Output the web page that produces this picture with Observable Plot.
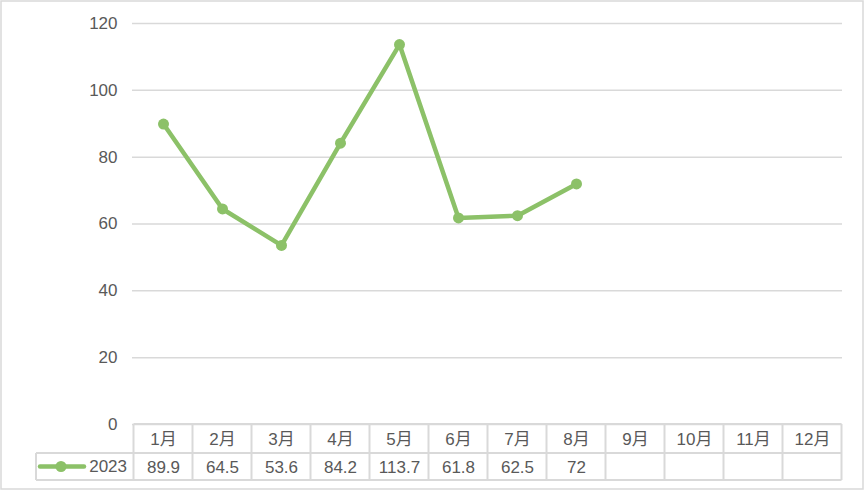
<!DOCTYPE html>
<html>
<head>
<meta charset="utf-8">
<script src="https://cdn.jsdelivr.net/npm/d3@7"></script>
<script src="https://cdn.jsdelivr.net/npm/@observablehq/plot@0.6"></script>
<style>
  body { margin: 0; background: #fff; }
  svg { display: block; }
</style>
</head>
<body>
<div id="chart"></div>
<script>
const months = ["1月","2月","3月","4月","5月","6月","7月","8月","9月","10月","11月","12月"];
const values = [89.9, 64.5, 53.6, 84.2, 113.7, 61.8, 62.5, 72, null, null, null, null];
const seriesName = "2023";
const yTicks = [0, 20, 40, 60, 80, 100, 120];

(function () {
const data = months.map((m, i) => ({month: m, value: values[i]}));
const present = data.filter(d => d.value != null);

const green = "#8cc168";
const gray = "#595959";
const lineGray = "#d9d9d9";
const font = "'Liberation Sans', 'Noto Sans CJK SC', sans-serif";

const plot = Plot.plot({
  width: 867,
  height: 492,
  marginLeft: 132,
  marginRight: 25,
  marginTop: 23,
  marginBottom: 68,
  style: {fontSize: "17px", fontFamily: font, color: gray, background: "#fff", overflow: "visible"},
  x: {type: "point", domain: months, padding: 0.5, axis: null},
  y: {domain: [0, 120], ticks: yTicks, tickSize: 0, tickPadding: 15, label: null, tickFormat: d => d},
  marks: [
    Plot.ruleY(yTicks, {stroke: lineGray, strokeWidth: 1.5}),
    Plot.line(present, {x: "month", y: "value", stroke: green, strokeWidth: 4.5, strokeLinejoin: "round", strokeLinecap: "round"}),
    Plot.dot(present, {x: "month", y: "value", r: 5.5, fill: green, stroke: "none"}),
    Plot.text(months, {x: d => d, frameAnchor: "bottom", dy: 15, lineAnchor: "middle", fill: gray, fontSize: 17}),
    Plot.text(data, {x: "month", text: d => d.value == null ? "" : String(d.value), frameAnchor: "bottom", dy: 43.5, lineAnchor: "middle", fill: gray, fontSize: 17})
  ]
});

document.getElementById("chart").appendChild(plot);

// Data table grid and legend key, positioned through Plot's scales
const svg = d3.select(plot);
const sx = plot.scale("x");
const sy = plot.scale("y");
const step = sx.apply(months[1]) - sx.apply(months[0]);
const x0 = sx.apply(months[0]) - step / 2;
const x1 = sx.apply(months[months.length - 1]) + step / 2;
const yTop = sy.apply(0);
const yMid = yTop + 29;
const yBot = yTop + 56;
const legendLeft = 36;

const g = svg.append("g").attr("stroke", lineGray).attr("stroke-width", 2).attr("fill", "none");
g.append("line").attr("x1", x0).attr("x2", x1).attr("y1", yTop).attr("y2", yTop);
g.append("line").attr("x1", legendLeft).attr("x2", x1).attr("y1", yMid).attr("y2", yMid);
g.append("line").attr("x1", legendLeft).attr("x2", x1).attr("y1", yBot).attr("y2", yBot);
g.append("line").attr("x1", legendLeft).attr("x2", legendLeft).attr("y1", yMid).attr("y2", yBot);
for (let i = 0; i <= months.length; i++) {
  const x = x0 + i * step;
  g.append("line").attr("x1", x).attr("x2", x).attr("y1", yTop).attr("y2", yBot);
}

const ly = (yMid + yBot) / 2;
svg.append("line").attr("x1", 40).attr("x2", 84).attr("y1", ly).attr("y2", ly)
  .attr("stroke", green).attr("stroke-width", 4.5).attr("stroke-linecap", "round");
svg.append("circle").attr("cx", 61).attr("cy", ly).attr("r", 5.5).attr("fill", green);
svg.append("text").attr("x", 127).attr("y", ly).attr("dy", "0.35em").attr("text-anchor", "end")
  .attr("fill", gray).attr("font-size", 17).attr("font-family", font).text(seriesName);

// Chart area border
svg.append("rect").attr("x", 1).attr("y", 1).attr("width", 862).attr("height", 488)
  .attr("fill", "none").attr("stroke", lineGray).attr("stroke-width", 1.5);
})();
</script>
</body>
</html>
